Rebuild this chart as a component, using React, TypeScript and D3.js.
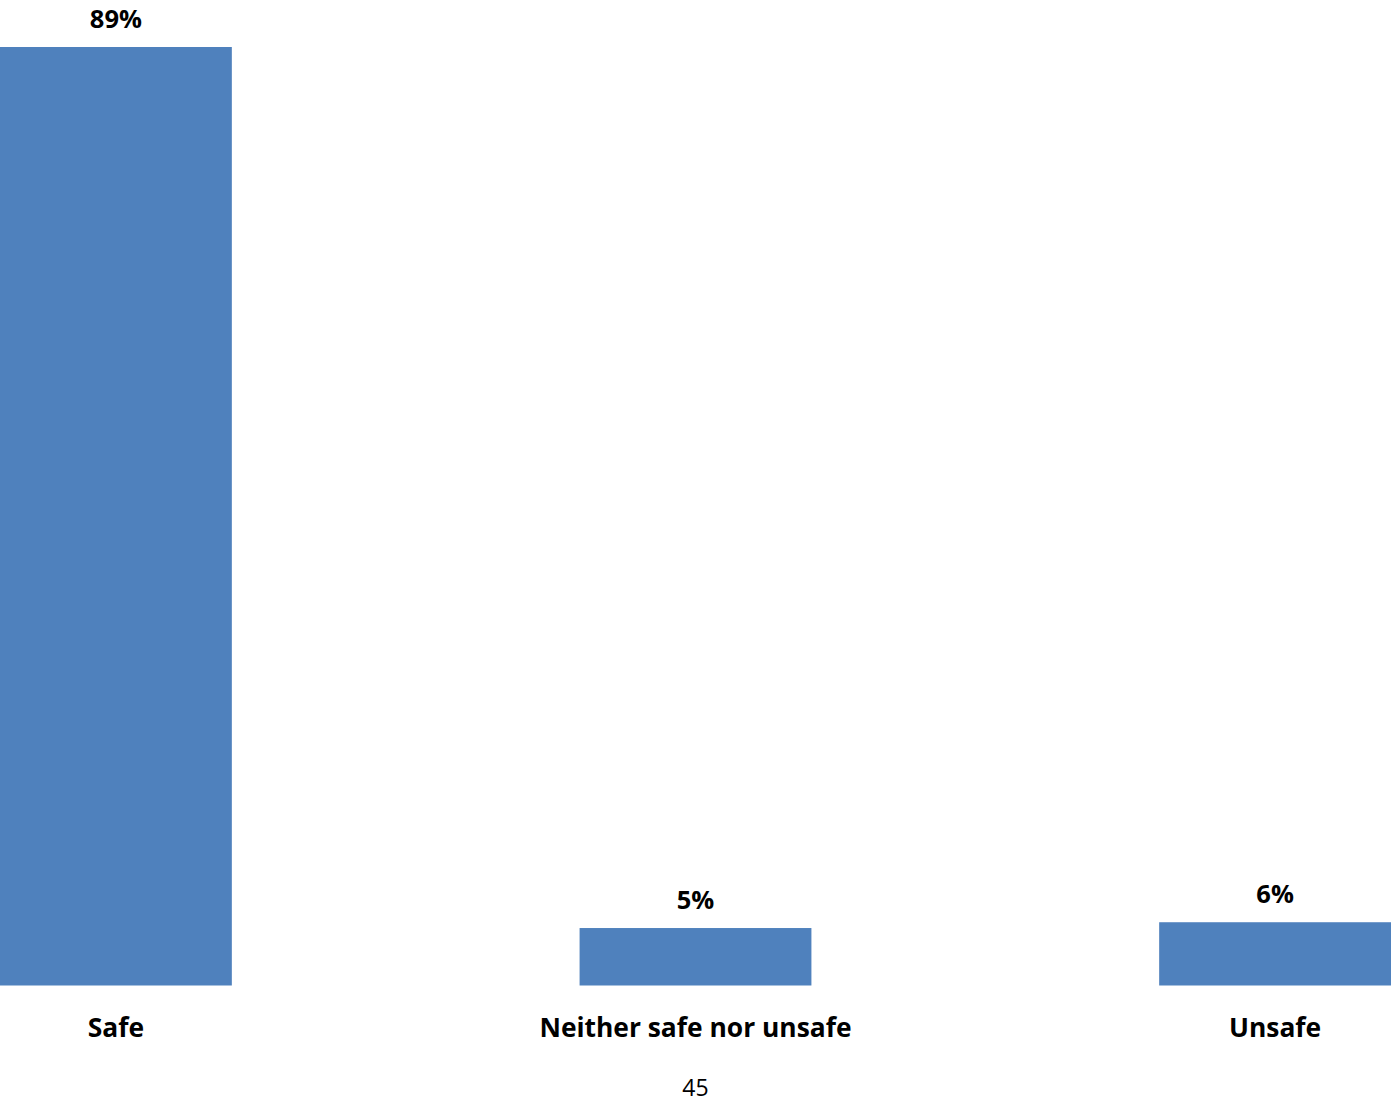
import React from "react";
import * as d3 from "d3";

const categories = ["Safe", "Neither safe nor unsafe", "Unsafe"];
const values = [89, 5.45, 6];
const valueLabels = ["89%", "5%", "6%"];
const pageNumber = "45";

const W = 1391;
const H = 1103;
const baseline = 985.5;
const topY = 47;
const FONT = "'Open Sans', 'Liberation Sans', sans-serif";

export default function App() {
  const x = d3.scaleBand<string>().domain(categories).range([0, W]).paddingInner(0.6).paddingOuter(0);
  const y = d3.scaleLinear().domain([0, 89]).range([baseline, topY]);
  return (
    <svg
      width={W}
      height={H}
      style={{ position: "absolute", left: 0, top: 0, background: "#fff" }}
      xmlns="http://www.w3.org/2000/svg"
    >
      <rect x={0} y={0} width={W} height={H} fill="#fff" />
      {categories.map((c, i) => {
        const bx = x(c)!;
        const bw = x.bandwidth();
        const cx = bx + bw / 2;
        return (
          <g key={c}>
            <rect x={bx} y={y(values[i])} width={bw} height={baseline - y(values[i])} fill="#4F81BD" />
            <text
              x={cx}
              y={y(values[i]) - 19.5}
              textAnchor="middle"
              fontFamily={FONT}
              fontWeight="bold"
              fontSize={25.5}
              fill="#000"
            >
              {valueLabels[i]}
            </text>
            <text
              x={cx}
              y={1036.5}
              textAnchor="middle"
              fontFamily={FONT}
              fontWeight="bold"
              fontSize={26.4}
              fill="#000"
            >
              {c}
            </text>
          </g>
        );
      })}
      <text x={W / 2} y={1096} textAnchor="middle" fontFamily={FONT} fontSize={23} fill="#000">
        {pageNumber}
      </text>
    </svg>
  );
}
